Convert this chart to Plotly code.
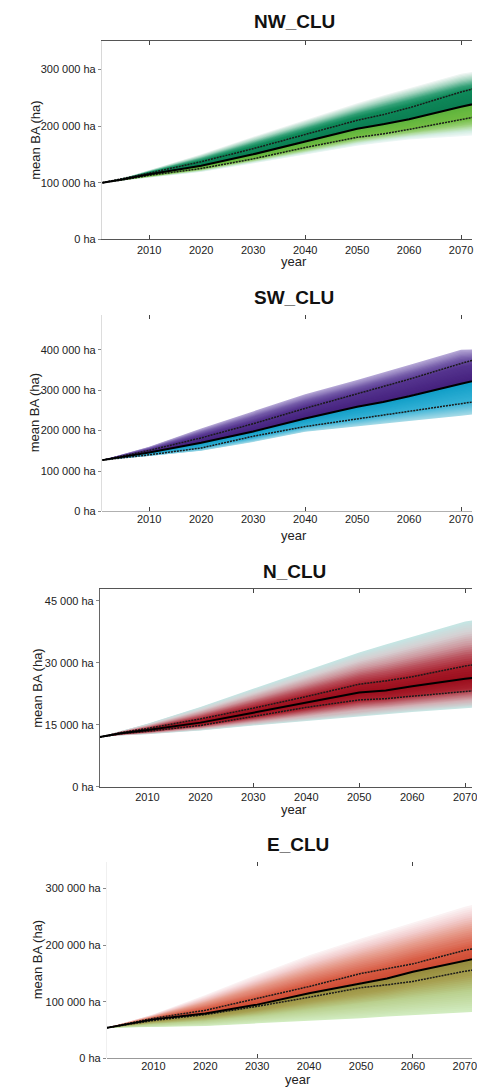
import plotly.graph_objects as go

W, H = 477, 1090

# ---------------- data ----------------
YEARS = [2001, 2005, 2010, 2020, 2030, 2040, 2050, 2055, 2060, 2070, 2075]
DECADES = [2010, 2020, 2030, 2040, 2050, 2060, 2070]

NW_MEAN   = [100000, 106000, 115000, 130000, 150000, 173000, 195000, 203000, 212000, 234000, 244000]
NW_UP     = [100000, 107000, 117000, 137000, 160000, 185000, 210000, 220000, 232000, 260000, 272000]
NW_LO     = [100000, 105000, 113000, 125000, 142000, 162000, 180000, 186000, 194000, 212000, 220000]
NW_UP_OUT = [100000, 108000, 122000, 150000, 181000, 211000, 240000, 254000, 267000, 292000, 300000]
NW_LO_OUT = [100000, 104000, 110000, 119000, 134000, 150000, 165000, 171000, 176000, 182000, 185000]

SW_MEAN   = [127000, 135000, 146000, 170000, 198000, 230000, 259000, 271000, 285000, 316000, 331000]
SW_UP     = [127000, 137000, 151000, 182000, 217000, 255000, 291000, 309000, 327000, 366000, 384000]
SW_LO     = [127000, 133000, 140000, 157000, 186000, 210000, 229000, 238000, 248000, 267000, 276000]
SW_UP_OUT = [127000, 141000, 160000, 205000, 247000, 290000, 325000, 343000, 362000, 400000, 402000]
SW_LO_OUT = [127000, 131000, 137000, 150000, 172000, 197000, 211000, 218000, 224000, 237000, 243000]

N_MEAN    = [12000, 12900, 13700, 15500, 17900, 20300, 22800, 23300, 24300, 26100, 26800]
N_UP      = [12000, 13100, 14100, 16400, 19000, 21800, 24800, 25600, 26600, 29200, 30200]
N_LO      = [12000, 12800, 13400, 14800, 17000, 19200, 21000, 21300, 21900, 23100, 23600]
N_UP_OUT  = [12000, 13500, 15200, 19300, 23700, 28000, 32500, 34400, 36300, 40000, 40800]
N_LO_OUT  = [12000, 12400, 12700, 13600, 14800, 15900, 17100, 17600, 18100, 19000, 19400]

E_MEAN    = [54000, 61000, 69000, 79500, 95000, 115000, 133000, 141000, 153000, 173000, 182000]
E_UP      = [54000, 62000, 71000, 85000, 106000, 127000, 150000, 159000, 167000, 191000, 200000]
E_LO      = [54000, 60000, 67000, 77500, 92000, 108000, 125000, 130000, 136000, 154000, 161000]
E_UP_OUT  = [54000, 64000, 78000, 112000, 148000, 182000, 212000, 226000, 240000, 268000, 278000]
E_LO_OUT  = [54000, 54500, 55500, 57500, 62000, 66000, 71000, 74000, 76500, 82000, 84000]

NW_YTICKS = [0, 100000, 200000, 300000]
SW_YTICKS = [0, 100000, 200000, 300000, 400000]
N_YTICKS  = [0, 15000, 30000, 45000]
E_YTICKS  = [0, 100000, 200000, 300000]

TITLES = ["NW_CLU", "SW_CLU", "N_CLU", "E_CLU"]
X_LABEL = "year"
Y_LABEL = "mean BA (ha)"


# ---------------- helpers ----------------
def hex_rgb(h):
    h = h.lstrip("#")
    return tuple(int(h[i:i + 2], 16) for i in (0, 2, 4))


def color_at(stops, t):
    for (t0, c0), (t1, c1) in zip(stops[:-1], stops[1:]):
        if t <= t1:
            f = 0 if t1 == t0 else (t - t0) / (t1 - t0)
            a, b = hex_rgb(c0), hex_rgb(c1)
            r = [round(a[i] + (b[i] - a[i]) * f) for i in range(3)]
            return "rgb(%d,%d,%d)" % tuple(r)
    return "rgb(%d,%d,%d)" % hex_rgb(stops[-1][1])


def fmt_ha(v):
    return f"{v:,}".replace(",", " ") + " ha"


FONT = "Liberation Sans, Arial, sans-serif"

panels = [
    dict(mean=NW_MEAN, up=NW_UP, lo=NW_LO, up_out=NW_UP_OUT, lo_out=NW_LO_OUT, yticks=NW_YTICKS,
         up_stops=[(0, "#0b7d52"), (0.45, "#0f8a5a"), (0.6, "#35a178"), (0.8, "#a3d4bf"), (1.0, "#f6f9f7")],
         lo_stops=[(0, "#5db33c"), (0.45, "#72bd43"), (0.65, "#9dd27c"), (0.85, "#d2ede0"), (1.0, "#f1f9f9")],
         yrange=[0, 350000], xrange=[2000.91, 2072.1], left=103, top=41.2, bottom=240.7,
         xline="#555555", yline="#d8d8d8", topline=True,
         minor=[2010, 2040, 2070], title_y=22, xlab_y=263, ytitle=(36, 141), title_x=297.5),
    dict(mean=SW_MEAN, up=SW_UP, lo=SW_LO, up_out=SW_UP_OUT, lo_out=SW_LO_OUT, yticks=SW_YTICKS,
         up_stops=[(0, "#44207c"), (0.5, "#55348f"), (0.72, "#7259a7"), (1.0, "#b8abd8")],
         lo_stops=[(0, "#0e9dc7"), (0.6, "#36b2d6"), (1.0, "#a9dbe7")],
         yrange=[0, 487000], xrange=[2000.91, 2072.1], left=103, top=316.3, bottom=514.3,
         xline="#b0b0b0", yline="#dddddd", topline=False,
         minor=[2010, 2040, 2070], title_y=299, xlab_y=538, ytitle=(35, 415), title_x=297.5),
    dict(mean=N_MEAN, up=N_UP, lo=N_LO, up_out=N_UP_OUT, lo_out=N_LO_OUT, yticks=N_YTICKS,
         up_stops=[(0, "#9a0d1c"), (0.2, "#a51a28"), (0.4, "#b9505c"), (0.6, "#cd9aa0"),
                   (0.8, "#d6d0d2"), (1.0, "#c4e7e5")],
         lo_stops=[(0, "#9a0d1c"), (0.35, "#a9222f"), (0.55, "#c06a74"), (0.75, "#d2b0b5"),
                   (1.0, "#c8e9e7")],
         yrange=[0, 47840], xrange=[2001.03, 2071.3], left=101, top=592.3, bottom=791,
         xline="#555555", yline="#666666", topline=True,
         minor=[2030, 2050, 2070], title_y=575, xlab_y=814, ytitle=(38, 692), title_x=297.5),
    dict(mean=E_MEAN, up=E_UP, lo=E_LO, up_out=E_UP_OUT, lo_out=E_LO_OUT, yticks=E_YTICKS,
         up_stops=[(0, "#cf4a33"), (0.25, "#d85e46"), (0.55, "#e69a8a"), (0.8, "#f3d0d1"), (1.0, "#fcf6f7")],
         lo_stops=[(0, "#958a3c"), (0.3, "#a7a050"), (0.6, "#bad08e"), (1.0, "#d2edc3")],
         yrange=[0, 347000], xrange=[2001.04, 2071.38], left=108, top=866.7, bottom=1064.3,
         xline="#999999", yline="#f0f0f0", topline=False,
         minor=[2030, 2060], title_y=849, xlab_y=1085, ytitle=(38, 965), title_x=301),
]

K = 26
fig = go.Figure()
annotations = []
layout = dict(width=W, height=H, margin=dict(l=0, r=0, t=0, b=0),
              paper_bgcolor="white", plot_bgcolor="white", showlegend=False,
              font=dict(family=FONT, color="#222222"))

for i, p in enumerate(panels, start=1):
    xa, ya = ("x" if i == 1 else f"x{i}"), ("y" if i == 1 else f"y{i}")
    mean = p["mean"]
    for outer, stops in ((p["up_out"], p["up_stops"]), (p["lo_out"], p["lo_stops"])):
        for k in range(K, 0, -1):
            t = k / K
            bound = [m + t * (o - m) for m, o in zip(mean, outer)]
            col = color_at(stops, (k - 0.5) / K)
            fig.add_trace(go.Scatter(
                x=YEARS + YEARS[::-1], y=bound + mean[::-1], xaxis=xa, yaxis=ya,
                mode="lines", fill="toself", fillcolor=col, line=dict(width=0),
                hoverinfo="skip"))
    for series in (p["up"], p["lo"]):
        fig.add_trace(go.Scatter(x=YEARS, y=series, xaxis=xa, yaxis=ya, mode="lines",
                                 line=dict(color="#1a1a1a", width=1.5, dash="2px,1px"),
                                 hoverinfo="skip"))
    fig.add_trace(go.Scatter(x=YEARS, y=mean, xaxis=xa, yaxis=ya, mode="lines",
                             line=dict(color="black", width=2), hoverinfo="skip"))

    xdom = [p["left"] / W, 1.0]
    ydom = [1 - p["bottom"] / H, 1 - p["top"] / H]
    xkey = "xaxis" if i == 1 else f"xaxis{i}"
    ykey = "yaxis" if i == 1 else f"yaxis{i}"
    layout[xkey] = dict(
        domain=xdom, range=p["xrange"], anchor=ya, showgrid=False, zeroline=False,
        tickmode="array", tickvals=DECADES, ticktext=[str(d) for d in DECADES],
        ticks="inside", ticklen=0, tickfont=dict(size=11, color="#222222"),
        ticklabeloverflow="allow",
        showline=p["topline"], linecolor=p["xline"], linewidth=1,
        mirror="ticks",
        minor=dict(tickmode="array", tickvals=p["minor"], ticks="inside", ticklen=4,
                   tickcolor="#444444", tickwidth=1, showgrid=False),
    )
    layout[ykey] = dict(
        domain=ydom, range=p["yrange"], anchor=xa, showgrid=False,
        zeroline=not p["topline"], zerolinecolor=p["xline"], zerolinewidth=1,
        tickmode="array", tickvals=p["yticks"], ticktext=[fmt_ha(v) for v in p["yticks"]],
        ticks="outside", ticklen=3, tickcolor="#888888", tickfont=dict(size=11, color="#222222"),
        showline=True, linecolor=p["yline"], linewidth=1,
    )
    annotations.append(dict(text="<b>%s</b>" % TITLES[i - 1], xref="paper", yref="paper",
                            x=p["title_x"] / W, y=1 - p["title_y"] / H, xanchor="center",
                            yanchor="middle", showarrow=False,
                            font=dict(size=19, color="#111111", family=FONT)))
    annotations.append(dict(text=X_LABEL, xref="paper", yref="paper",
                            x=p["title_x"] / W, y=1 - p["xlab_y"] / H, xanchor="center",
                            yanchor="middle", showarrow=False,
                            font=dict(size=13, color="#222222", family=FONT)))
    annotations.append(dict(text=Y_LABEL, xref="paper", yref="paper", textangle=-90,
                            x=p["ytitle"][0] / W, y=1 - p["ytitle"][1] / H, xanchor="center",
                            yanchor="middle", showarrow=False,
                            font=dict(size=13, color="#222222", family=FONT)))

layout["annotations"] = annotations
fig.update_layout(**layout)
fig.write_html("out.html", config={"displayModeBar": False},
               post_script="document.body.style.margin='0';document.body.style.overflow='hidden';")
